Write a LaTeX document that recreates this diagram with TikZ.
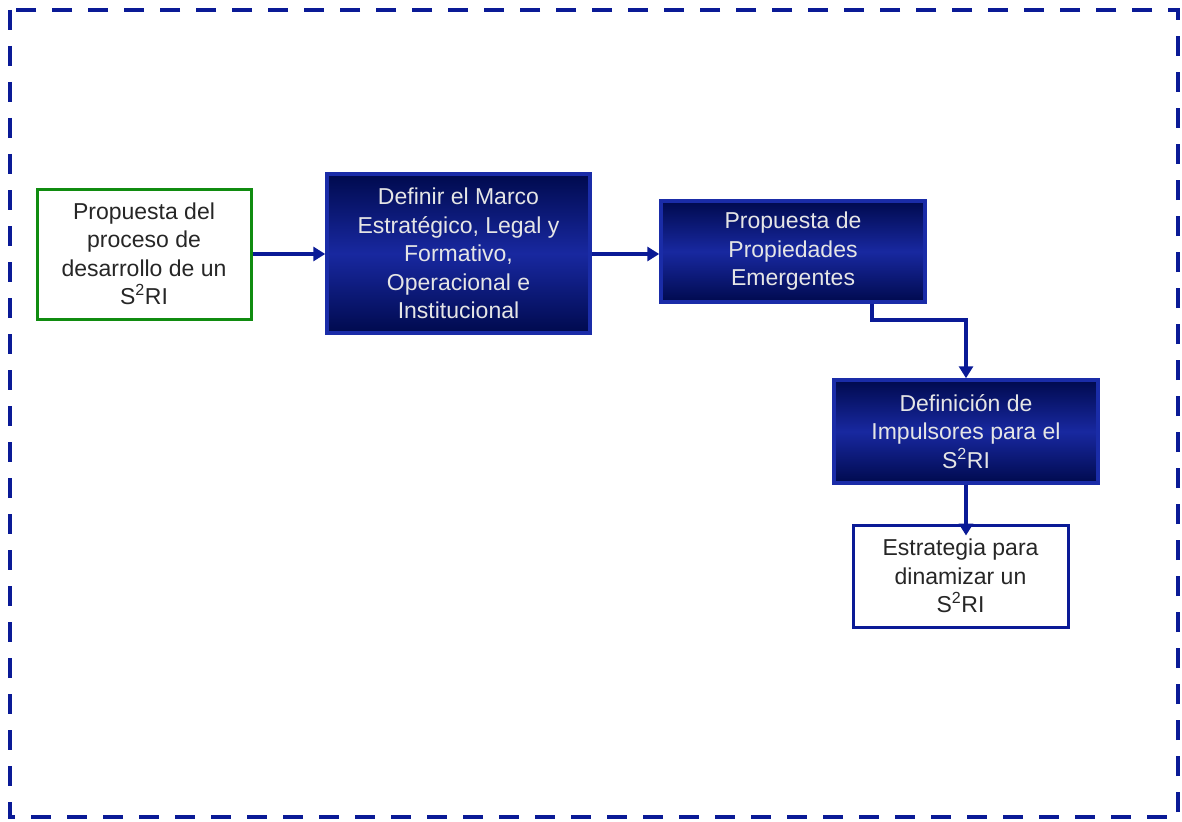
\documentclass[tikz,border=0pt]{standalone}
\usepackage{fontspec}
\setmainfont{Liberation Sans}
\usetikzlibrary{arrows.meta}
\definecolor{navy}{HTML}{0A1A96}
\definecolor{boxedge}{HTML}{1A2CA8}
\definecolor{boxdark}{HTML}{000A4E}
\definecolor{boxmid}{HTML}{1828A0}
\definecolor{greenedge}{HTML}{108C10}
\tikzset{
  txt/.style={align=center, font=\fontsize{23}{28.5}\selectfont, inner sep=0pt},
  bluebox/.style={txt, draw=boxedge, line width=3.5pt, text=white!90!black,
    top color=boxdark, bottom color=boxdark, middle color=boxmid},
  greenbox/.style={txt, draw=greenedge, line width=3pt, fill=white, text=black!85},
  whitebox/.style={txt, draw=navy, line width=3pt, fill=white, text=black!85},
  conn/.style={draw=navy, line width=3.5pt, -{Triangle[length=12pt,width=14pt]}},
  frame/.style={draw=navy, line width=4pt, dash pattern=on 20pt off 16pt}
}
\begin{document}
\begin{tikzpicture}[x=1pt,y=-1pt]
\useasboundingbox (0,0) rectangle (1182,821);
\draw[frame] (10,10) rectangle (1178,817);

\node[greenbox, minimum width=214pt, minimum height=130pt] (b1) at (144,254)
  {Propuesta del\\proceso de\\desarrollo de un\\S\textsuperscript{2}RI};
\node[bluebox, minimum width=263pt, minimum height=159pt] (b2) at (458.5,253.5)
  {Definir el Marco\\Estratégico, Legal y\\Formativo,\\Operacional e\\Institucional};
\node[bluebox, minimum width=264pt, minimum height=101pt] (b3) at (793,251.5)
  {Propuesta de\\Propiedades\\Emergentes};
\node[bluebox, minimum width=264pt, minimum height=103pt] (b4) at (966,431.5)
  {Definición de\\Impulsores para el\\S\textsuperscript{2}RI};
\node[whitebox, minimum width=215pt, minimum height=102pt] (b5) at (960.5,576)
  {Estrategia para\\dinamizar un\\S\textsuperscript{2}RI};

\draw[conn] (b1.east |- 0,254) -- (b2.west |- 0,254);
\draw[conn] (b2.east |- 0,254) -- (b3.west |- 0,254);
\draw[conn] ([xshift=79pt]b3.south) -- ++(0,16) -| (b4.north);
\draw[conn] (b4.south) -- ([yshift=-12pt]b4.south |- b5.north);
\end{tikzpicture}
\end{document}
